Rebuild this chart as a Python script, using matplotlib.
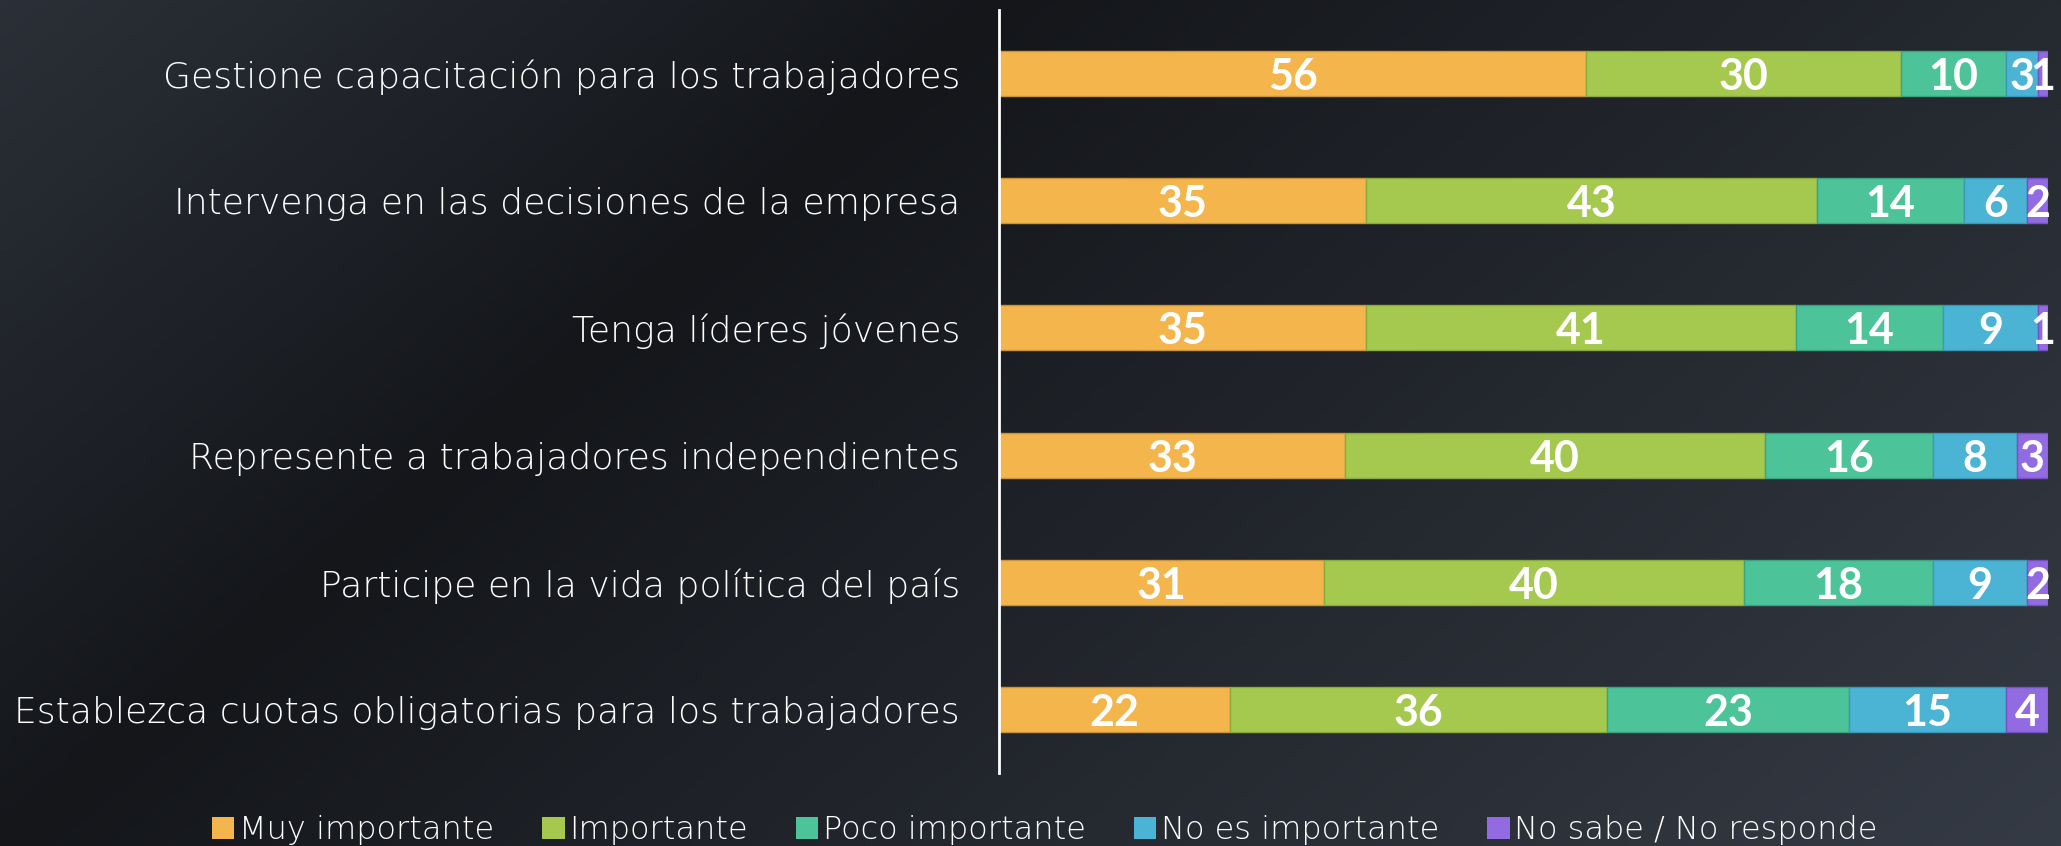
import numpy as np
import matplotlib
matplotlib.use("Agg")
import matplotlib.pyplot as plt
from matplotlib.patches import Patch

# datos
categorias = [
    "Gestione capacitación para los trabajadores",
    "Intervenga en las decisiones de la empresa",
    "Tenga líderes jóvenes",
    "Represente a trabajadores independientes",
    "Participe en la vida política del país",
    "Establezca cuotas obligatorias para los trabajadores",
]
series = ["Muy importante", "Importante", "Poco importante",
          "No es importante", "No sabe / No responde"]
muy_importante = [56, 35, 35, 33, 31, 22]
importante = [30, 43, 41, 40, 40, 36]
poco_importante = [10, 14, 14, 16, 18, 23]
no_importante = [3, 6, 9, 8, 9, 15]
no_sabe = [1, 2, 1, 3, 2, 4]
valores = [muy_importante, importante, poco_importante, no_importante, no_sabe]
colores = ["#F4B64C", "#A5C84F", "#4CC399", "#4BB4D5", "#926AE2"]
bordes = ["#C9933A", "#8AAA3C", "#3BA47F", "#3B98B6", "#7552C0"]

FONT = "DejaVu Sans"
W, H = 2061, 846
fig = plt.figure(figsize=(W / 100, H / 100), dpi=100)

# fondo degradado
bg = fig.add_axes([0, 0, 1, 1], zorder=-10)
xx, yy = np.meshgrid(np.linspace(0, 1, 400), np.linspace(0, 1, 200))
t = 2.06 * xx + yy
c_claro = np.array([43, 48, 56]) / 255
c_oscuro = np.array([20, 22, 26]) / 255
c_final = np.array([53, 59, 69]) / 255
img = np.zeros(xx.shape + (3,))
for k in range(3):
    img[..., k] = np.where(t < 1,
                           c_claro[k] + (c_oscuro[k] - c_claro[k]) * t,
                           c_oscuro[k] + (c_final[k] - c_oscuro[k]) * (t - 1) / 2.06)
bg.imshow(img, aspect="auto", extent=[0, 1, 1, 0])
bg.set_axis_off()

ax = fig.add_axes([999 / W, 73 / H, 1049 / W, 763 / H])
ax.patch.set_alpha(0)
y = np.arange(len(categorias))
izq = np.zeros(len(categorias))
for vals, col, bc, nombre in zip(valores, colores, bordes, series):
    vals = np.array(vals)
    ax.barh(y, vals, left=izq, height=0.355, color=col, edgecolor=bc,
            linewidth=1, label=nombre)
    for yi, l, v in zip(y, izq, vals):
        ax.text(l + v / 2, yi, str(v), ha="center", va="center_baseline",
                color="white", fontsize=31, fontweight="bold", family="Lato")
    izq += vals

ax.set_xlim(0, 100)
ax.set_ylim(5.5, -0.5)
ax.set_yticks(y)
ax.set_yticklabels(categorias, fontsize=26, color="white", family=FONT,
                   fontweight="light")
ax.tick_params(axis="y", length=0, pad=28)
ax.set_xticks([])
for s in ["top", "right", "bottom"]:
    ax.spines[s].set_visible(False)
ax.spines["left"].set_color("white")
ax.spines["left"].set_linewidth(2)

handles = [Patch(facecolor=c, edgecolor="none") for c in colores]
leg = fig.legend(handles, series, loc="center", bbox_to_anchor=(0.507, 0.019),
                 ncol=5, frameon=False, handlelength=0.7, handleheight=0.7,
                 handletextpad=0.15, columnspacing=1.5,
                 prop={"family": FONT, "size": 23, "weight": "light"})
for txt in leg.get_texts():
    txt.set_color("white")

fig.savefig("out.png", dpi=100)
